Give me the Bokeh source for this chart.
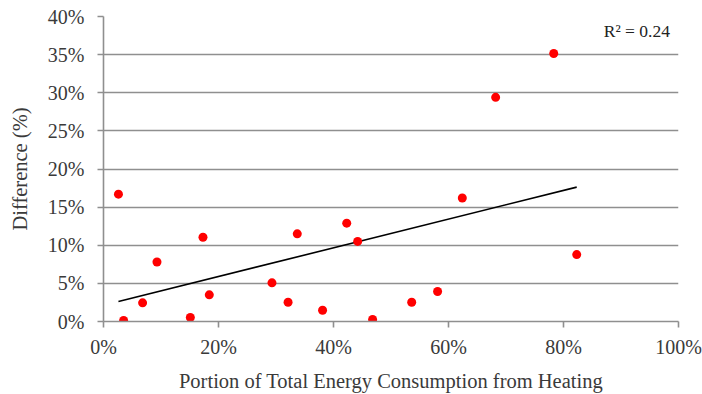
import numpy as np
from bokeh.plotting import figure
from bokeh.models import FixedTicker, NumeralTickFormatter, Label, Range1d
from bokeh.embed import file_html
from bokeh.resources import INLINE

# Data (fractions)
heating_share = [0.026, 0.035, 0.068, 0.093, 0.151, 0.173, 0.184, 0.293, 0.321, 0.337,
                 0.381, 0.423, 0.442, 0.468, 0.536, 0.581, 0.624, 0.682, 0.783, 0.823]
difference = [0.167, 0.0013, 0.0245, 0.078, 0.0052, 0.1105, 0.035, 0.0507, 0.0253, 0.115,
              0.0148, 0.129, 0.105, 0.0026, 0.0253, 0.0393, 0.162, 0.294, 0.3515, 0.0878]
y_ticks = [0, 0.05, 0.10, 0.15, 0.20, 0.25, 0.30, 0.35, 0.40]
x_ticks = [0, 0.2, 0.4, 0.6, 0.8, 1.0]
r2_label = "R² = 0.24"

FONT = "Liberation Serif"
GRID = "#8f8f8f"
TEXT = "#3a3a3a"

p = figure(width=702, height=394, output_backend="svg", toolbar_location=None,
           x_range=Range1d(0, 1), y_range=Range1d(0, 0.4),
           min_border_left=103, min_border_right=24, min_border_top=16, min_border_bottom=73)
p.outline_line_color = None
p.background_fill_color = "white"
p.border_fill_color = "white"

# Trend line (least squares fit over data extent)
slope, intercept = np.polyfit(heating_share, difference, 1)
xs = np.array([min(heating_share), max(heating_share)])
p.line(xs, slope * xs + intercept, line_color="black", line_width=1.6)

p.scatter(heating_share, difference, size=9, fill_color="#ff0000", line_color=None)

p.xgrid.visible = False
p.ygrid.grid_line_color = GRID
p.ygrid.grid_line_width = 1.6
p.ygrid.ticker = FixedTicker(ticks=y_ticks)

for ax, ticks in ((p.xaxis[0], x_ticks), (p.yaxis[0], y_ticks)):
    ax.ticker = FixedTicker(ticks=ticks)
    ax.formatter = NumeralTickFormatter(format="0%")
    ax.axis_line_color = GRID
    ax.axis_line_width = 1.6
    ax.major_tick_line_color = GRID
    ax.major_tick_line_width = 1.6
    ax.major_tick_out = 6
    ax.major_tick_in = 0
    ax.minor_tick_line_color = None
    ax.major_label_text_font = FONT
    ax.major_label_text_font_size = "20px"
    ax.major_label_text_color = TEXT
    ax.axis_label_text_font = FONT
    ax.axis_label_text_font_size = "20.5px"
    ax.axis_label_text_font_style = "normal"
    ax.axis_label_text_color = TEXT

p.xaxis.axis_label = "Portion of Total Energy Consumption from Heating"
p.yaxis.axis_label = "Difference (%)"
p.yaxis.major_label_standoff = 13
p.xaxis.major_label_standoff = 8
p.xaxis.axis_label_standoff = 9
p.yaxis.axis_label_standoff = 14

p.add_layout(Label(x=0.985, y=0.381, text=r2_label, text_align="right", text_baseline="middle",
                   text_font=FONT, text_font_size="17.5px", text_color="#222222"))

open("out.html", "w").write(file_html(p, INLINE))
